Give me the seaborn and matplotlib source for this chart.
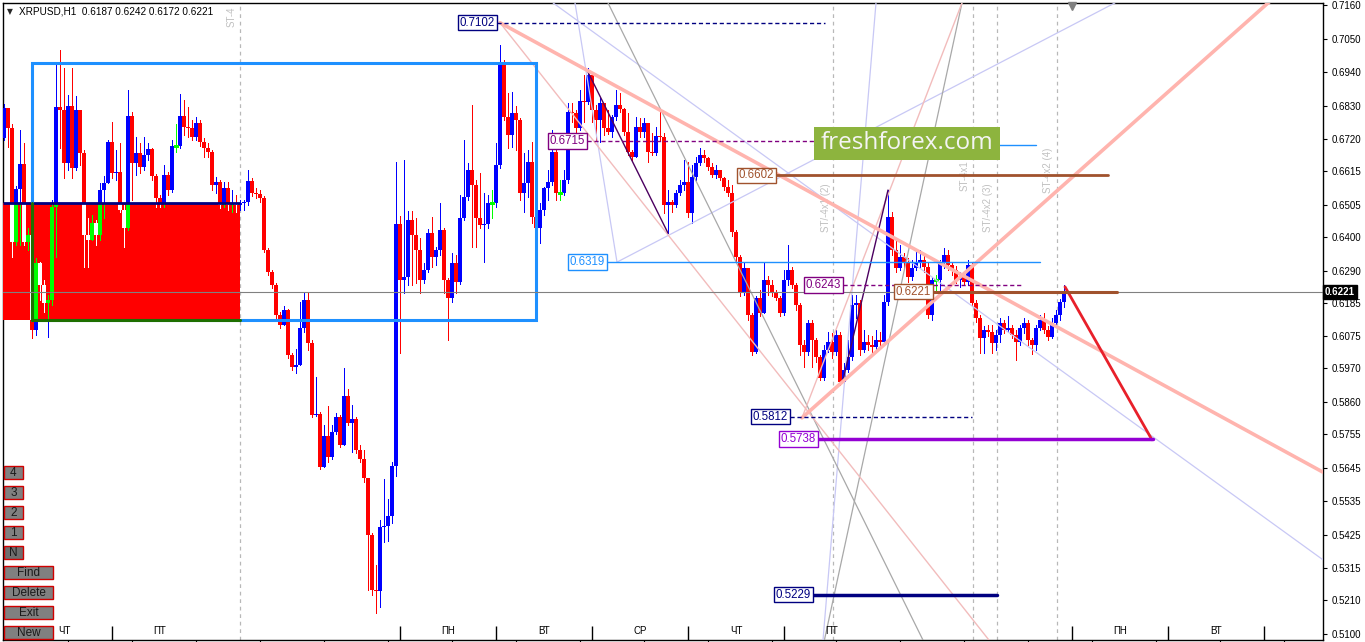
import matplotlib
matplotlib.use("Agg")
import matplotlib.pyplot as plt
import matplotlib.transforms as mtransforms
from matplotlib.patches import Rectangle
import numpy as np
import seaborn as sns

# ---------------- data ----------------
header = "XRPUSD,H1  0.6187 0.6242 0.6172 0.6221"
first_open = 0.6724
closes = [
    0.6823, 0.6757, 0.6384, 0.6558, 0.6639, 0.6384, 0.6407, 0.6096, 0.6315, 0.6243,
    0.6184, 0.6194, 0.6499, 0.6826, 0.6816, 0.6643, 0.6829, 0.6626, 0.6816, 0.6675,
    0.6407, 0.6390, 0.6446, 0.6407, 0.6554, 0.6577, 0.6711, 0.6610, 0.6613, 0.6489,
    0.6430, 0.6797, 0.6643, 0.6675, 0.6630, 0.6669, 0.6689, 0.6600, 0.6528, 0.6512,
    0.6603, 0.6554, 0.6698, 0.6698, 0.6797, 0.6761, 0.6757, 0.6728, 0.6774, 0.6711,
    0.6692, 0.6679, 0.6571, 0.6580, 0.6505, 0.6561, 0.6505, 0.6512, 0.6505, 0.6512,
    0.6515, 0.6584, 0.6544, 0.6541, 0.6528, 0.6358, 0.6286, 0.6243, 0.6145, 0.6112,
    0.6161, 0.6014, 0.5975, 0.5981, 0.6102, 0.6194, 0.6053, 0.5817, 0.5821, 0.5647,
    0.5749, 0.5680, 0.5762, 0.5811, 0.5719, 0.5879, 0.5791, 0.5804, 0.5703, 0.5673,
    0.5611, 0.5424, 0.5244, 0.5241, 0.5450, 0.5454, 0.5487, 0.5650, 0.6443, 0.6259,
    0.6269, 0.6456, 0.6407, 0.6358, 0.6259, 0.6292, 0.6413, 0.6335, 0.6358, 0.6423,
    0.6259, 0.6200, 0.6315, 0.6253, 0.6463, 0.6531, 0.6620, 0.6571, 0.6463, 0.6440,
    0.6443, 0.6512, 0.6512, 0.6636, 0.6970, 0.6793, 0.6734, 0.6806, 0.6783, 0.6544,
    0.6577, 0.6646, 0.6466, 0.6430, 0.6489, 0.6561, 0.6580, 0.6679, 0.6544, 0.6544,
    0.6587, 0.6810, 0.6806, 0.6757, 0.6846, 0.6842, 0.6931, 0.6816, 0.6783, 0.6839,
    0.6757, 0.6744, 0.6793, 0.6833, 0.6820, 0.6744, 0.6679, 0.6662, 0.6761, 0.6744,
    0.6774, 0.6679, 0.6675, 0.6731, 0.6728, 0.6505, 0.6515, 0.6505, 0.6544, 0.6571,
    0.6580, 0.6479, 0.6597, 0.6643, 0.6669, 0.6659, 0.6630, 0.6603, 0.6620, 0.6594,
    0.6564, 0.6544, 0.6417, 0.6335, 0.6217, 0.6299, 0.6145, 0.6024, 0.6200, 0.6151,
    0.6259, 0.6243, 0.6217, 0.6200, 0.6151, 0.6259, 0.6292, 0.6243, 0.6178, 0.6046,
    0.6024, 0.6118, 0.6063, 0.6007, 0.5938, 0.6030, 0.6056, 0.6024, 0.6079, 0.5925,
    0.5965, 0.6007, 0.6178, 0.6184, 0.6030, 0.6056, 0.6046, 0.6040, 0.6063, 0.6056,
    0.6187, 0.6466, 0.6358, 0.6299, 0.6335, 0.6318, 0.6269, 0.6299, 0.6315, 0.6325,
    0.6302, 0.6145, 0.6259, 0.6259, 0.6315, 0.6341, 0.6309, 0.6292, 0.6259, 0.6269,
    0.6253, 0.6309, 0.6184, 0.6135, 0.6070, 0.6096, 0.6089, 0.6053, 0.6079, 0.6118,
    0.6096, 0.6102, 0.6079, 0.6056, 0.6102, 0.6118, 0.6063, 0.6046, 0.6102, 0.6128,
    0.6096, 0.6073, 0.6118, 0.6145, 0.6187, 0.6221,
]
highs = [
    0.6836, 0.6790, 0.6770, 0.6567, 0.6751, 0.6708, 0.6430, 0.6390, 0.6332, 0.6318,
    0.6259, 0.6210, 0.6521, 0.6970, 0.7013, 0.6954, 0.6865, 0.6954, 0.6862, 0.6816,
    0.6685, 0.6463, 0.6472, 0.6456, 0.6577, 0.6600, 0.6718, 0.6777, 0.6685, 0.6708,
    0.6505, 0.6882, 0.6810, 0.6728, 0.6708, 0.6728, 0.6708, 0.6692, 0.6607, 0.6538,
    0.6636, 0.6613, 0.6718, 0.6770, 0.6869, 0.6849, 0.6826, 0.6783, 0.6793, 0.6783,
    0.6725, 0.6708, 0.6685, 0.6597, 0.6587, 0.6580, 0.6580, 0.6554, 0.6538, 0.6521,
    0.6521, 0.6620, 0.6594, 0.6561, 0.6554, 0.6535, 0.6364, 0.6292, 0.6250, 0.6155,
    0.6174, 0.6164, 0.6020, 0.6033, 0.6187, 0.6217, 0.6217, 0.6063, 0.5942, 0.5827,
    0.5785, 0.5847, 0.5785, 0.5824, 0.5817, 0.5971, 0.5902, 0.5850, 0.5811, 0.5719,
    0.5703, 0.5477, 0.5431, 0.5326, 0.5473, 0.5608, 0.5542, 0.5663, 0.6646, 0.6469,
    0.6652, 0.6486, 0.6486, 0.6463, 0.6398, 0.6315, 0.6426, 0.6466, 0.6367, 0.6512,
    0.6430, 0.6266, 0.6348, 0.6341, 0.6538, 0.6718, 0.6643, 0.6833, 0.6587, 0.6610,
    0.6544, 0.6538, 0.6554, 0.6708, 0.7029, 0.6980, 0.6872, 0.6875, 0.6829, 0.6790,
    0.6675, 0.6685, 0.6711, 0.6472, 0.6512, 0.6564, 0.6620, 0.6751, 0.6695, 0.6587,
    0.6620, 0.6839, 0.6839, 0.6816, 0.6882, 0.6931, 0.6954, 0.6931, 0.6833, 0.6859,
    0.6790, 0.6816, 0.6800, 0.6882, 0.6872, 0.6823, 0.6806, 0.6685, 0.6793, 0.6790,
    0.6790, 0.6767, 0.6741, 0.6761, 0.6823, 0.6741, 0.6554, 0.6521, 0.6554, 0.6587,
    0.6652, 0.6646, 0.6636, 0.6662, 0.6692, 0.6685, 0.6662, 0.6643, 0.6636, 0.6620,
    0.6597, 0.6587, 0.6571, 0.6423, 0.6341, 0.6318, 0.6299, 0.6151, 0.6207, 0.6227,
    0.6315, 0.6273, 0.6259, 0.6227, 0.6207, 0.6292, 0.6374, 0.6302, 0.6250, 0.6184,
    0.6063, 0.6128, 0.6128, 0.6070, 0.6014, 0.6046, 0.6089, 0.6086, 0.6096, 0.6089,
    0.5988, 0.6063, 0.6210, 0.6210, 0.6194, 0.6096, 0.6079, 0.6076, 0.6096, 0.6089,
    0.6210, 0.6554, 0.6482, 0.6390, 0.6374, 0.6348, 0.6332, 0.6325, 0.6351, 0.6358,
    0.6341, 0.6318, 0.6269, 0.6276, 0.6325, 0.6364, 0.6358, 0.6318, 0.6305, 0.6286,
    0.6276, 0.6325, 0.6318, 0.6194, 0.6145, 0.6109, 0.6112, 0.6112, 0.6096, 0.6135,
    0.6128, 0.6141, 0.6112, 0.6096, 0.6112, 0.6135, 0.6128, 0.6070, 0.6112, 0.6145,
    0.6151, 0.6109, 0.6135, 0.6161, 0.6197, 0.6242,
]
lows = [
    0.6718, 0.6695, 0.6335, 0.6374, 0.6374, 0.6374, 0.6358, 0.6070, 0.6079, 0.6194,
    0.6155, 0.6073, 0.6178, 0.6335, 0.6692, 0.6594, 0.6620, 0.6594, 0.6620, 0.6636,
    0.6302, 0.6302, 0.6390, 0.6374, 0.6390, 0.6463, 0.6594, 0.6594, 0.6587, 0.6482,
    0.6368, 0.6423, 0.6521, 0.6603, 0.6610, 0.6620, 0.6652, 0.6587, 0.6499, 0.6499,
    0.6499, 0.6538, 0.6548, 0.6679, 0.6692, 0.6734, 0.6728, 0.6718, 0.6718, 0.6698,
    0.6662, 0.6662, 0.6554, 0.6544, 0.6495, 0.6499, 0.6489, 0.6482, 0.6482, 0.6489,
    0.6489, 0.6505, 0.6535, 0.6528, 0.6515, 0.6351, 0.6276, 0.6233, 0.6135, 0.6102,
    0.6135, 0.6004, 0.5965, 0.5955, 0.5997, 0.6089, 0.6030, 0.5811, 0.5814, 0.5640,
    0.5647, 0.5663, 0.5673, 0.5755, 0.5712, 0.5726, 0.5785, 0.5696, 0.5693, 0.5663,
    0.5598, 0.5244, 0.5228, 0.5169, 0.5188, 0.5401, 0.5405, 0.5463, 0.5618, 0.6020,
    0.6217, 0.6243, 0.6243, 0.6250, 0.6217, 0.6250, 0.6286, 0.6302, 0.6309, 0.6341,
    0.6217, 0.6063, 0.6187, 0.6217, 0.6246, 0.6456, 0.6521, 0.6368, 0.6368, 0.6430,
    0.6318, 0.6430, 0.6463, 0.6499, 0.6626, 0.6783, 0.6692, 0.6695, 0.6685, 0.6521,
    0.6482, 0.6531, 0.6446, 0.6417, 0.6380, 0.6472, 0.6521, 0.6571, 0.6521, 0.6521,
    0.6538, 0.6577, 0.6777, 0.6741, 0.6751, 0.6777, 0.6836, 0.6777, 0.6718, 0.6711,
    0.6734, 0.6738, 0.6728, 0.6783, 0.6810, 0.6734, 0.6669, 0.6652, 0.6662, 0.6728,
    0.6728, 0.6646, 0.6669, 0.6669, 0.6718, 0.6479, 0.6413, 0.6482, 0.6499, 0.6538,
    0.6554, 0.6466, 0.6446, 0.6587, 0.6636, 0.6646, 0.6620, 0.6597, 0.6594, 0.6587,
    0.6554, 0.6535, 0.6404, 0.6318, 0.6207, 0.6210, 0.6128, 0.6014, 0.6020, 0.6141,
    0.6178, 0.6210, 0.6207, 0.6194, 0.6141, 0.6145, 0.6243, 0.6233, 0.6161, 0.6014,
    0.5975, 0.6014, 0.5975, 0.5991, 0.5932, 0.5932, 0.6024, 0.6004, 0.6014, 0.5915,
    0.5922, 0.5958, 0.5997, 0.6135, 0.6014, 0.6024, 0.6030, 0.6024, 0.6030, 0.6043,
    0.6053, 0.6178, 0.6341, 0.6286, 0.6292, 0.6299, 0.6253, 0.6259, 0.6292, 0.6299,
    0.6286, 0.6135, 0.6128, 0.6227, 0.6220, 0.6299, 0.6292, 0.6276, 0.6250, 0.6236,
    0.6243, 0.6243, 0.6174, 0.6122, 0.6020, 0.6020, 0.6076, 0.6020, 0.6030, 0.6056,
    0.6086, 0.6089, 0.6070, 0.5999, 0.6046, 0.6086, 0.6046, 0.6017, 0.6030, 0.6096,
    0.6086, 0.6063, 0.6070, 0.6112, 0.6128, 0.6172,
]

price_ticks = [0.7160, 0.7050, 0.6940, 0.6830, 0.6720, 0.6615, 0.6505, 0.6400, 0.6290, 0.6185,
               0.6075, 0.5970, 0.5860, 0.5755, 0.5645, 0.5535, 0.5425, 0.5315, 0.5210, 0.5100]
current_price = 0.6221

day_names = ["ЧТ", "ПТ", "ПН", "ВТ", "СР", "ЧТ", "ПТ", "ПН", "ВТ"]
day_label_bars = [15, 39, 111, 135, 159, 183, 207, 279, 303]
day_break_bars = [27, 99, 123, 147, 171, 195, 267, 291, 315]

# horizontal levels: value, bar where the label sits, bar where the line ends
level_values = [0.7102, 0.6715, 0.6319, 0.6602, 0.6243, 0.6221, 0.5812, 0.5738, 0.5229]
level_start_bars = [123.25, 145.75, 150.75, 193, 209.75, 232.25, 196.5, 203.5, 202.25]
level_end_bars = [205.25, 202.5, 259, 276, 254.75, 278.25, 242, 287.25, 248.25]

# trend lines: (bar0, price0, bar1, price1)
pink_thick = [(124, 0.7102, 329.75, 0.5630), (199.5, 0.5808, 329.75, 0.7327)]
pink_thin = [(124, 0.7102, 246.25, 0.5080), (199.5, 0.5808, 239.5, 0.7167)]
gray_lines = [(151, 0.7167, 229.75, 0.5080), (205.1, 0.5080, 239.5, 0.7167)]
purple_lines = [(145.75, 0.6947, 166, 0.6413), (209.75, 0.5932, 221, 0.6554)]
lavender_lines = [(153.25, 0.6318, 277.75, 0.7167), (137.25, 0.7167, 329.75, 0.5343),
                  (142.75, 0.7167, 153.25, 0.6318), (204.75, 0.5080, 218, 0.7167)]
forecast_line = (265.25, 0.6237, 287, 0.5736)

# zones
zone_bars = (-0.25, 59)
zone_prices = (0.6128, 0.6512)
box_bars = (7, 133)
box_prices = (0.6130, 0.6970)

marker_bars = [59, 207.25, 242.25, 248.25, 263.25]
marker_texts = [("ST-4", 57, 0.7088, "bottom"), ("ST/-4x1 (2)", 205.5, 0.6495, "center"),
                ("ST-4x1", 240.25, 0.6600, "center"), ("ST/-4x2 (3)", 246, 0.6495, "center"),
                ("ST-4x2 (4)", 261, 0.6620, "center")]

buttons = ["4", "3", "2", "1", "N", "Find", "Delete", "Exit", "New"]

# ---------------- style ----------------
sns.set_theme(style="white")
plt.rcParams["font.family"] = ["Liberation Sans", "DejaVu Sans"]

W, H = 1365, 642
fig = plt.figure(figsize=(W / 100, H / 100), dpi=100)
fig.patch.set_facecolor("white")
ax = fig.add_axes([3 / W, 2 / H, 1320 / W, 637 / H])
ax.set_facecolor("white")
ax.set_xlim(-0.25, 329.75)
ax.set_ylim(0.50804, 0.71666)
for s in ax.spines.values():
    s.set_color("black")
    s.set_linewidth(1)

closes = np.array(closes)
opens = np.r_[first_open, closes[:-1]]
highs = np.maximum(np.array(highs), np.maximum(opens, closes))
lows = np.minimum(np.array(lows), np.minimum(opens, closes))
idx = np.arange(len(closes))
doji = np.isclose(closes, opens, atol=1e-5)
up = closes > opens

BLUE, RED, LIME = "#0000ff", "#ff0000", "#00ff00"
cols = np.where(doji, LIME, np.where(up, BLUE, RED))
xor_cols = np.where(doji, BLUE, np.where(up, LIME, "#ffffff"))


def draw_candles(colors, z, clip=None):
    lc = ax.vlines(idx, lows, highs, colors=list(colors), lw=0.72, zorder=z, antialiased=False)
    bars = ax.bar(idx[~doji], (closes - opens)[~doji], bottom=opens[~doji], width=0.76,
                  color=list(colors[~doji]), linewidth=0, zorder=z, antialiased=False)
    dj = ax.hlines(closes[doji], idx[doji] - 0.4, idx[doji] + 0.4, colors=list(colors[doji]), lw=1,
                   zorder=z, antialiased=False)
    if clip is not None:
        lc.set_clip_path(clip)
        dj.set_clip_path(clip)
        for b in bars:
            b.set_clip_path(clip)


# vertical markers
for b in marker_bars:
    ax.axvline(b, color="#b8b8b8", lw=0.9, ls=(0, (3, 3)), zorder=1)
for txt, b, p, va in marker_texts:
    ax.text(b, p, txt, rotation=90, color="#c0c0c0", fontsize=7, ha="center", va=va, zorder=1, clip_on=True)

draw_candles(cols, 3)

# red zone with inverted candles on top
zone = Rectangle((zone_bars[0], zone_prices[0]), zone_bars[1] - zone_bars[0], zone_prices[1] - zone_prices[0],
                 facecolor=RED, edgecolor="none", zorder=4)
ax.add_patch(zone)
draw_candles(xor_cols, 5, clip=zone)
ax.plot(zone_bars, [zone_prices[1]] * 2, color="#000080", lw=2, zorder=6, solid_capstyle="butt")

# blue box
ax.add_patch(Rectangle((box_bars[0], box_prices[0]), box_bars[1] - box_bars[0], box_prices[1] - box_prices[0],
                       fill=False, edgecolor="#1e90ff", lw=2.2, zorder=6))
ax.plot([box_bars[0], box_bars[0]], [box_prices[0], zone_prices[1]], color="#1e6f00", lw=2.2, zorder=6)
ax.plot([box_bars[0], zone_bars[1]], [box_prices[0], box_prices[0]], color="#1e6f00", lw=2.2, zorder=6)

# trend lines
for x0, y0, x1, y1 in lavender_lines:
    ax.plot([x0, x1], [y0, y1], color="#c8c8f5", lw=0.9, zorder=4)
for x0, y0, x1, y1 in gray_lines:
    ax.plot([x0, x1], [y0, y1], color="#a8a8a8", lw=0.9, zorder=4)
for x0, y0, x1, y1 in pink_thin:
    ax.plot([x0, x1], [y0, y1], color="#f2bcbc", lw=1, zorder=4)
for x0, y0, x1, y1 in purple_lines:
    ax.plot([x0, x1], [y0, y1], color="#4b0060", lw=1, zorder=4)
for x0, y0, x1, y1 in pink_thick:
    ax.plot([x0, x1], [y0, y1], color="#ffb4ae", lw=2.6, zorder=4)
x0, y0, x1, y1 = forecast_line
ax.plot([x0, x1], [y0, y1], color="#e8202a", lw=2, zorder=6)

# current price line
ax.axhline(current_price, color="#808080", lw=0.8, zorder=6)

# horizontal levels
lvl_colors = ["#000080", "#800080", "#1e90ff", "#a0522d", "#800080", "#a0522d", "#000080", "#9400d3", "#000080"]
lvl_styles = ["--", "--", "-", "-", "--", "-", "--", "-", "-"]
lvl_widths = [1, 1, 1, 2, 1, 2.2, 1, 2.5, 2.5]
for v, s0, s1, c, ls, lw in zip(level_values, level_start_bars, level_end_bars, lvl_colors, lvl_styles, lvl_widths):
    ax.plot([s0, s1], [v, v], color=c, ls=ls if ls == "-" else (0, (3, 2)), lw=lw, zorder=7)
    ax.text(s0 - 0.5, v, f"{v:.4f}", ha="right", va="center", fontsize=8.3, color=c, zorder=8,
            bbox=dict(boxstyle="square,pad=0.15", fc="white", ec=c, lw=1))

# small blue segment right of the logo, and the logo
ax.plot([202.5, 258], [0.6700, 0.6700], color="#1e90ff", lw=1, zorder=7)
ax.add_patch(Rectangle((202.5, 0.6652), 46.5, 0.0109, facecolor="#8db43e", edgecolor="none", zorder=9))
ax.text(225.75, 0.67065, "freshforex.com", ha="center", va="center", color="#f4f4f4", fontsize=17.5,
        family=["Open Sans", "DejaVu Sans"], zorder=10)

# chart-shift marker
ax.plot([267], [0.7158], marker="v", color="#808080", ms=6, zorder=10, clip_on=False)

# axes ticks
ax.yaxis.tick_right()
ax.set_yticks(price_ticks)
ax.set_yticklabels([f"{p:.4f}" for p in price_ticks])
ax.tick_params(axis="y", right=True, length=3, width=0.8, pad=3, labelsize=7, colors="black")
ax.set_xticks(np.arange(16, 330, 16))
ax.set_xticklabels([])
ax.tick_params(axis="x", bottom=True, length=1.6, width=0.8, colors="black")

blend = mtransforms.blended_transform_factory(ax.transAxes, ax.transData)
ax.text(1.0 + 2 / 1320, current_price, f"{current_price:.4f}", transform=blend, ha="left", va="center",
        fontsize=7, color="white", fontweight="bold", zorder=11, clip_on=False,
        bbox=dict(boxstyle="square,pad=0.2", fc="black", ec="black"))

# day separators and names
xblend = mtransforms.blended_transform_factory(ax.transData, ax.transAxes)
ax.vlines(day_break_bars, 0, 14 / 637, transform=xblend, color="black", lw=1, zorder=8)
for name, b in zip(day_names, day_label_bars):
    ax.text(b, 9 / 637, name, transform=xblend, ha="center", va="center", fontsize=7, color="black", zorder=8)

# header text
fig.text(7 / W, 1 - 12 / H, "▼", fontsize=5.5, family="DejaVu Sans", va="center", ha="left")
fig.text(19 / W, 1 - 12 / H, header, fontsize=7.2, va="center", ha="left", color="black")

# buttons
ys = [466, 486, 506, 526, 546, 566, 586, 606, 626]
for label, y in zip(buttons, ys):
    w = 19 if len(label) == 1 else 49
    fc = "#6e6e6e" if label == "N" else "#808080"
    fig.add_artist(Rectangle((4 / W, 1 - (y + 13) / H), w / W, 13 / H, transform=fig.transFigure,
                             facecolor=fc, edgecolor="#d00000", lw=1, zorder=20))
    fig.text((4 + w / 2) / W, 1 - (y + 6.5) / H, label, fontsize=8.5, color="#1a1a1a",
             ha="center", va="center", zorder=21)

fig.savefig("out.png", dpi=100, facecolor="white")
